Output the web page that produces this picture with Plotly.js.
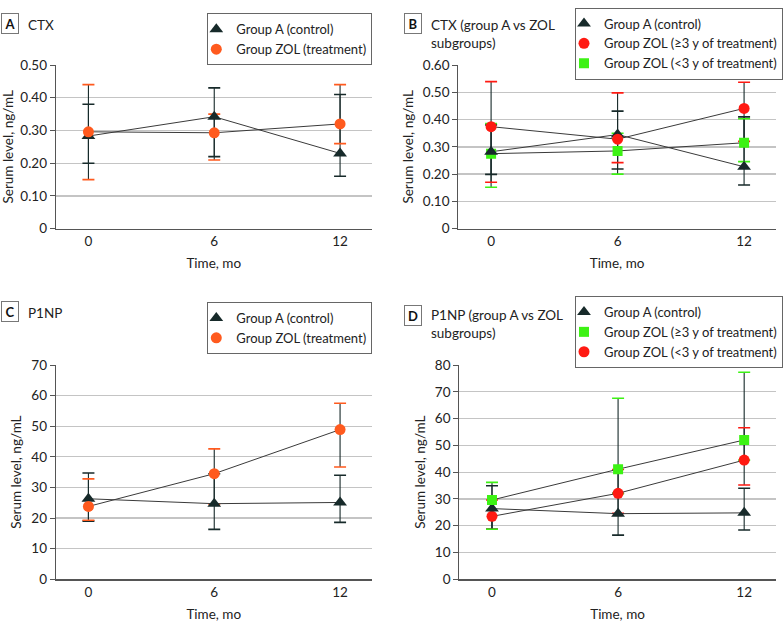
<!DOCTYPE html>
<html>
<head>
<meta charset="utf-8">
<script src="https://cdn.plot.ly/plotly-3.0.1.min.js"></script>
<style>
    body { margin: 0; background: #fff; }
    #graph { width: 783px; height: 632px; }
</style>
</head>
<body>
<div id="graph"></div>
<script>
// *********************************************************************************************
// DATA

const TIME = [0, 6, 12];
const X_TICKS = [0, 6, 12];

// A - CTX
const A_CTRL = [0.283, 0.342, 0.23];
const A_CTRL_HI = [0.38, 0.43, 0.41];
const A_CTRL_LO = [0.20, 0.22, 0.16];
const A_ZOL = [0.296, 0.293, 0.32];
const A_ZOL_HI = [0.44, 0.35, 0.44];
const A_ZOL_LO = [0.15, 0.21, 0.26];

// B - CTX subgroups
const B_CTRL = [0.282, 0.345, 0.227];
const B_CTRL_HI = [0.38, 0.431, 0.41];
const B_CTRL_LO = [0.199, 0.219, 0.16];
const B_GE3 = [0.374, 0.328, 0.441];
const B_GE3_HI = [0.539, 0.498, 0.537];
const B_GE3_LO = [0.17, 0.242, 0.32];
const B_LT3 = [0.275, 0.285, 0.315];
const B_LT3_HI = [0.385, 0.35, 0.403];
const B_LT3_LO = [0.152, 0.20, 0.246];

// C - P1NP
const C_CTRL = [26.3, 24.7, 25.1];
const C_CTRL_HI = [34.7, 34.5, 34.0];
const C_CTRL_LO = [19.0, 16.3, 18.6];
const C_ZOL = [23.8, 34.5, 48.9];
const C_ZOL_HI = [32.8, 42.6, 57.5];
const C_ZOL_LO = [19.3, 24.5, 36.7];

// D - P1NP subgroups
const D_CTRL = [26.4, 24.5, 24.8];
const D_CTRL_HI = [34.9, 32.1, 34.0];
const D_CTRL_LO = [18.7, 16.5, 18.4];
const D_GE3 = [29.6, 41.1, 52.0];
const D_GE3_HI = [36.2, 67.6, 77.3];
const D_GE3_LO = [18.7, 32.0, 44.5];
const D_LT3 = [23.5, 32.1, 44.5];
const D_LT3_HI = [29.6, 41.0, 56.6];
const D_LT3_LO = [18.7, 24.6, 35.2];

const CTX_A_TICKS = [0, 0.1, 0.2, 0.3, 0.4, 0.5];
const CTX_A_LABELS = ['0', '0.10', '0.20', '0.30', '0.40', '0.50'];
const CTX_B_TICKS = [0, 0.1, 0.2, 0.3, 0.4, 0.5, 0.6];
const CTX_B_LABELS = ['0', '0.10', '0.20', '0.30', '0.40', '0.50', '0.60'];


// *********************************************************************************************
// STYLE

const FONT = 'Lato, "Liberation Sans", sans-serif';
const FS = 13.5;
const DARK = '#172a2a';
const ORANGE = '#ff5a1e';
const RED = '#ff1a12';
const GREEN = '#3df214';
const LINE = '#3a3a3a';


// *********************************************************************************************
// TRACES

const capTraces = [];
const stemTraces = [];
const lineTraces = [];
const markerTraces = [];

const addSeries = (ax, mean, hi, lo, color, symbol, size, name, legend, rank) => {
    const plus = mean.map((v, i) => hi[i] - v);
    const minus = mean.map((v, i) => v - lo[i]);
    const xa = 'x' + ax, ya = 'y' + ax;

    // dark stems, no caps
    stemTraces.push({
        type: 'scatter', mode: 'markers', x: TIME, y: mean, xaxis: xa, yaxis: ya,
        marker: { opacity: 0, size: 1 }, showlegend: false, hoverinfo: 'skip',
        error_y: { type: 'data', array: plus, arrayminus: minus, color: DARK, thickness: 1.1, width: 0 }
    });
    // coloured caps: zero-length error bars sitting on the bounds
    capTraces.push({
        type: 'scatter', mode: 'markers', x: TIME.concat(TIME), y: hi.concat(lo), xaxis: xa, yaxis: ya,
        marker: { opacity: 0, size: 1 }, showlegend: false, hoverinfo: 'skip',
        error_y: { type: 'constant', value: 0, color: color, thickness: 1.6, width: 6 }
    });
    lineTraces.push({
        type: 'scatter', mode: 'lines', x: TIME, y: mean, xaxis: xa, yaxis: ya,
        line: { color: LINE, width: 1 }, showlegend: false, hoverinfo: 'skip'
    });
    markerTraces.push({
        type: 'scatter', mode: 'markers', x: TIME, y: mean, xaxis: xa, yaxis: ya,
        name: name, legend: legend, legendrank: rank,
        marker: { color: color, symbol: symbol, size: size }
    });
};

const CTRL_NAME = 'Group A (control)';

// A
addSeries('', A_CTRL, A_CTRL_HI, A_CTRL_LO, DARK, 'triangle-up', 12, CTRL_NAME, 'legend', 1);
addSeries('', A_ZOL, A_ZOL_HI, A_ZOL_LO, ORANGE, 'circle', 11, 'Group ZOL (treatment)', 'legend', 2);

// B
addSeries('2', B_LT3, B_LT3_HI, B_LT3_LO, GREEN, 'square', 10, 'Group ZOL (&lt;3 y of treatment)', 'legend2', 3);
addSeries('2', B_CTRL, B_CTRL_HI, B_CTRL_LO, DARK, 'triangle-up', 12, CTRL_NAME, 'legend2', 1);
addSeries('2', B_GE3, B_GE3_HI, B_GE3_LO, RED, 'circle', 11, 'Group ZOL (≥3 y of treatment)', 'legend2', 2);

// C
addSeries('3', C_CTRL, C_CTRL_HI, C_CTRL_LO, DARK, 'triangle-up', 12, CTRL_NAME, 'legend3', 1);
addSeries('3', C_ZOL, C_ZOL_HI, C_ZOL_LO, ORANGE, 'circle', 11, 'Group ZOL (treatment)', 'legend3', 2);

// D
addSeries('4', D_LT3, D_LT3_HI, D_LT3_LO, RED, 'circle', 11, 'Group ZOL (&lt;3 y of treatment)', 'legend4', 3);
addSeries('4', D_CTRL, D_CTRL_HI, D_CTRL_LO, DARK, 'triangle-up', 12, CTRL_NAME, 'legend4', 1);
addSeries('4', D_GE3, D_GE3_HI, D_GE3_LO, GREEN, 'square', 10, 'Group ZOL (≥3 y of treatment)', 'legend4', 2);

const data = [].concat(stemTraces, capTraces, lineTraces, markerTraces);


// *********************************************************************************************
// LAYOUT

const W = 783, H = 632;
const px = (v) => v / W;
const py = (v) => (H - v) / H;

const xAxis = (left, right, anchor) => ({
    domain: [px(left), px(right)],
    anchor: anchor,
    range: [-1.55, 13.5],
    tickvals: X_TICKS,
    ticks: '',
    showgrid: false,
    zeroline: false,
    showline: true,
    linecolor: '#555',
    linewidth: 1.2,
    tickfont: { family: FONT, size: FS, color: '#222' },
    title: { text: 'Time, mo', font: { family: FONT, size: FS, color: '#222' }, standoff: 10 },
    fixedrange: true
});

const yAxis = (top, bottom, anchor, range, tickvals, ticktext) => {
    const ax = {
        domain: [py(bottom), py(top)],
        anchor: anchor,
        range: range,
        ticks: 'outside',
        ticklen: 5,
        tickcolor: '#555',
        showgrid: true,
        gridcolor: '#c4c4c4',
        gridwidth: 1.3,
        zeroline: false,
        showline: true,
        linecolor: '#555',
        linewidth: 1.2,
        tickfont: { family: FONT, size: FS, color: '#222' },
        title: { text: 'Serum level, ng/mL', font: { family: FONT, size: FS, color: '#222' }, standoff: 6 },
        fixedrange: true
    };
    if (tickvals) { ax.tickvals = tickvals; ax.ticktext = ticktext; }
    else { ax.dtick = 10; }
    return ax;
};

const legendBox = (x, y) => ({
    x: x, y: y, xanchor: 'right', yanchor: 'top',
    bgcolor: '#fff',
    bordercolor: '#666',
    borderwidth: 1,
    indentation: -12,
    font: { family: FONT, size: 13, color: '#222' },
    itemclick: false
});

const label = (letter, x, y) => ({
    text: '<b>' + letter + '</b>',
    xref: 'paper', yref: 'paper',
    x: px(x), y: py(y), xanchor: 'center', yanchor: 'middle',
    showarrow: false,
    width: 12, height: 15,
    bordercolor: '#777', borderwidth: 1, borderpad: 2,
    bgcolor: '#fff',
    font: { family: FONT, size: 13, color: '#111' }
});

const heading = (text, x, y) => ({
    text: text,
    xref: 'paper', yref: 'paper',
    x: px(x), y: py(y), xanchor: 'left', yanchor: 'top',
    align: 'left',
    showarrow: false,
    font: { family: FONT, size: FS, color: '#222' }
});

const layout = {
    width: W,
    height: H,
    margin: { t: 0, r: 0, b: 0, l: 0 },
    paper_bgcolor: '#fff',
    plot_bgcolor: '#fff',
    font: { family: FONT, size: FS, color: '#222' },

    xaxis: xAxis(56, 372, 'y'),
    yaxis: yAxis(65, 228.7, 'x', [0, 0.5], CTX_A_TICKS, CTX_A_LABELS),
    xaxis2: xAxis(459, 776.7, 'y2'),
    yaxis2: yAxis(65, 228.7, 'x2', [0, 0.6], CTX_B_TICKS, CTX_B_LABELS),
    xaxis3: xAxis(56, 372, 'y3'),
    yaxis3: yAxis(365, 579.3, 'x3', [0, 70], null, null),
    xaxis4: xAxis(460, 776.7, 'y4'),
    yaxis4: yAxis(365, 579.3, 'x4', [0, 80], null, null),

    legend: legendBox(px(372.3), py(13.3)),
    legend2: legendBox(px(784), py(7.5)),
    legend3: legendBox(px(372.3), py(302)),
    legend4: legendBox(px(784), py(296)),

    annotations: [
        label('A', 10.5, 23.3),
        heading('CTX', 26, 15),
        label('B', 414, 23.3),
        heading('CTX (group A vs ZOL<br>subgroups)', 430, 15),
        label('C', 10.5, 311.5),
        heading('P1NP', 26, 303),
        label('D', 414, 315),
        heading('P1NP (group A vs ZOL<br>subgroups)', 430, 305)
    ],
    showlegend: true
};


// *********************************************************************************************
// CONFIG

const config = {
    displaylogo: false,
    displayModeBar: false,
    staticPlot: true
};

Plotly.newPlot('graph', data, layout, config);
</script>
</body>
</html>
